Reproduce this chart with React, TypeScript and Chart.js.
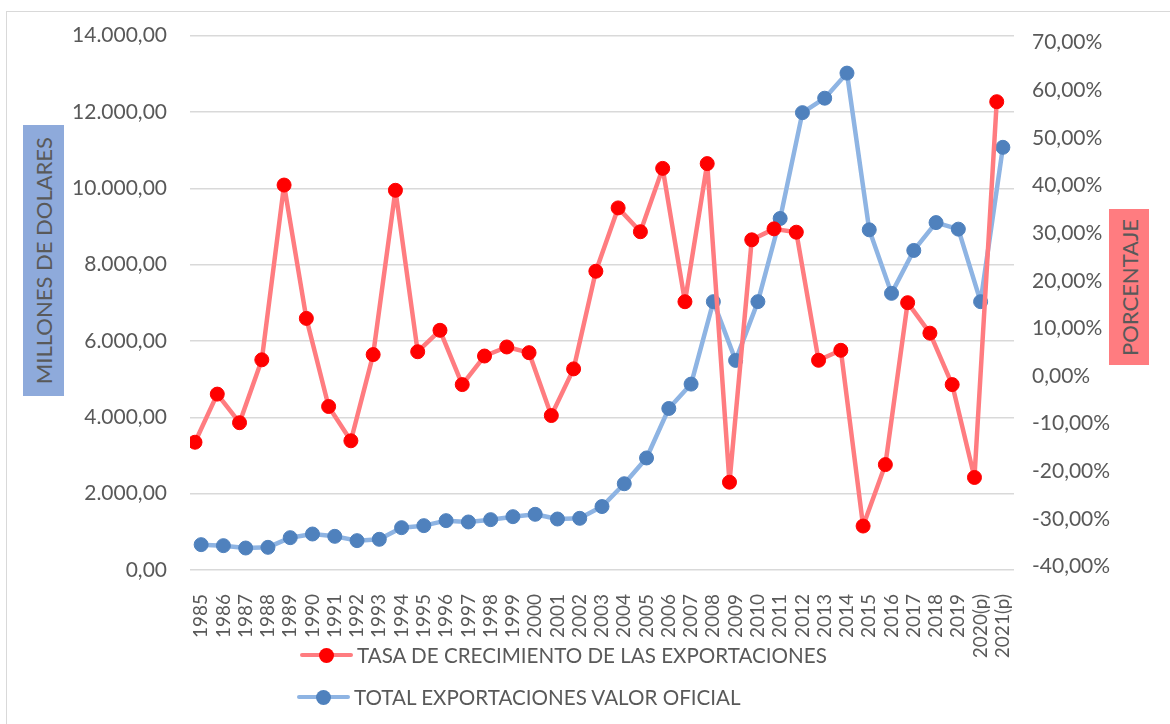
import React, { useEffect, useRef } from 'react';
import { Chart, registerables } from 'chart.js';

Chart.register(...registerables);

// ---------- data ----------
const years: string[] = [
  '1985', '1986', '1987', '1988', '1989', '1990', '1991', '1992', '1993', '1994',
  '1995', '1996', '1997', '1998', '1999', '2000', '2001', '2002', '2003', '2004',
  '2005', '2006', '2007', '2008', '2009', '2010', '2011', '2012', '2013', '2014',
  '2015', '2016', '2017', '2018', '2019', '2020(p)', '2021(p)',
];

// TOTAL EXPORTACIONES VALOR OFICIAL (millones de dólares)
const totalExports: number[] = [
  664, 638, 576, 594, 847, 943, 882, 769, 804, 1109,
  1162, 1293, 1258, 1319, 1397, 1459, 1336, 1354, 1662, 2260,
  2935, 4231, 4870, 7030, 5491, 7030, 9209, 11982, 12360, 13017,
  8912, 7247, 8372, 9101, 8930, 7030, 11073,
];

// TASA DE CRECIMIENTO DE LAS EXPORTACIONES (%)
const growthRate: number[] = [
  -13.9, -3.8, -9.8, 3.4, 40.1, 12.1, -6.4, -13.6, 4.5, 39.0,
  5.1, 9.6, -1.8, 4.2, 6.1, 4.9, -8.3, 1.5, 22.0, 35.3,
  30.3, 43.6, 15.6, 44.6, -22.3, 28.6, 30.9, 30.2, 3.3, 5.4,
  -31.5, -18.6, 15.4, 9.0, -1.8, -21.3, 57.6,
];

const leftTicks: number[] = [0, 2000, 4000, 6000, 8000, 10000, 12000, 14000];
const rightTicks: number[] = [-40, -30, -20, -10, 0, 10, 20, 30, 40, 50, 60, 70];

const seriesNames: string[] = [
  'TASA DE CRECIMIENTO DE LAS EXPORTACIONES',
  'TOTAL EXPORTACIONES VALOR OFICIAL',
];
const axisTitles: string[] = ['MILLONES DE DOLARES', 'PORCENTAJE'];

// ---------- style ----------
const FONT = 'Lato, "Open Sans", sans-serif';
const TEXT = '#595959';
const RED_LINE = '#ff7c80';
const RED_MARK = '#ff0000';
const BLUE_LINE = '#8eb4e3';
const BLUE_MARK = '#4f81bd';

function fmtNumber(v: number): string {
  const neg = v < 0;
  const [i, d] = Math.abs(v).toFixed(2).split('.');
  const withDots = i.replace(/\B(?=(\d{3})+(?!\d))/g, '.');
  return (neg ? '-' : '') + withDots + ',' + d;
}

export default function App() {
  const canvasRef = useRef<HTMLCanvasElement | null>(null);

  useEffect(() => {
    const canvas = canvasRef.current;
    if (!canvas) return;
    const chart = new Chart(canvas, {
      type: 'line',
      data: {
        labels: years,
        datasets: [
          {
            label: seriesNames[0],
            data: growthRate.map((v, i) => ({ x: i, y: v })),
            xAxisID: 'x2',
            yAxisID: 'y1',
            borderColor: RED_LINE,
            backgroundColor: RED_MARK,
            pointBackgroundColor: RED_MARK,
            pointBorderColor: RED_MARK,
            pointRadius: 7,
            pointBorderWidth: 1,
            borderWidth: 4.5,
            borderJoinStyle: 'round',
            borderCapStyle: 'round',
            tension: 0,
          },
          {
            label: seriesNames[1],
            data: totalExports,
            xAxisID: 'x',
            yAxisID: 'y',
            borderColor: BLUE_LINE,
            backgroundColor: BLUE_MARK,
            pointBackgroundColor: BLUE_MARK,
            pointBorderColor: BLUE_MARK,
            pointRadius: 7,
            pointBorderWidth: 1,
            borderWidth: 4.5,
            borderJoinStyle: 'round',
            borderCapStyle: 'round',
            tension: 0,
          },
        ],
      },
      options: {
        responsive: false,
        animation: false,
        layout: { padding: { top: 35, left: 0, right: 0, bottom: 0 } },
        plugins: {
          legend: { display: false },
          tooltip: { enabled: false },
        },
        scales: {
          x: {
            type: 'category',
            offset: true,
            grid: { display: false },
            border: { display: false },
            ticks: {
              autoSkip: false,
              maxRotation: 90,
              minRotation: 90,
              color: TEXT,
              padding: 16,
              font: { family: FONT, size: 19 },
            },
            afterFit: (s: any) => {
              s.height = 154;
            },
          },
          x2: {
            type: 'linear',
            display: false,
            min: -0.5 + 0.2755,
            max: 36.5 + 0.2755,
          },
          y: {
            position: 'left',
            min: 0,
            max: 14000,
            afterBuildTicks: (s: any) => {
              s.ticks = leftTicks.map((v) => ({ value: v }));
            },
            ticks: {
              color: TEXT,
              padding: 23,
              font: { family: FONT, size: 21 },
              callback: (v: any) => fmtNumber(Number(v)),
            },
            grid: { color: '#d9d9d9', lineWidth: 1.5, drawTicks: false },
            border: { display: false },
            afterFit: (s: any) => {
              s.width = 190;
            },
          },
          y1: {
            position: 'right',
            min: -40.73,
            max: 71.48,
            afterBuildTicks: (s: any) => {
              s.ticks = rightTicks.map((v) => ({ value: v }));
            },
            ticks: {
              color: TEXT,
              padding: 18,
              font: { family: FONT, size: 21 },
              callback: (v: any) => fmtNumber(Number(v)) + '%',
            },
            grid: { display: false, drawTicks: false },
            border: { display: false },
            afterFit: (s: any) => {
              s.width = 156;
            },
          },
        },
      },
    } as any);
    return () => chart.destroy();
  }, []);

  const legendRow = (
    top: number,
    lineLeft: number,
    lineColor: string,
    markColor: string,
    text: string,
  ) => (
    <>
      <div
        style={{
          position: 'absolute',
          left: lineLeft,
          top: top - 2.25,
          width: 53,
          height: 4.5,
          borderRadius: 2.25,
          background: lineColor,
        }}
      />
      <div
        style={{
          position: 'absolute',
          left: lineLeft + 26.5 - 7.5,
          top: top - 7.5,
          width: 15,
          height: 15,
          borderRadius: '50%',
          background: markColor,
        }}
      />
      <div
        style={{
          position: 'absolute',
          left: lineLeft + 57,
          top: top - 14,
          height: 28,
          lineHeight: '28px',
          fontFamily: FONT,
          fontSize: 20.6,
          color: TEXT,
          whiteSpace: 'nowrap',
        }}
      >
        {text}
      </div>
    </>
  );

  return (
    <div
      style={{
        position: 'fixed',
        left: 0,
        top: 0,
        width: 1170,
        height: 724,
        overflow: 'hidden',
        background: '#ffffff',
      }}
    >
      <div
        style={{
          position: 'absolute',
          left: 6,
          top: 11,
          width: 1300,
          height: 900,
          border: '1.5px solid #d9d9d9',
        }}
      />
      <canvas
        ref={canvasRef}
        width={1170}
        height={724}
        style={{ position: 'absolute', left: 0, top: 0, width: 1170, height: 724 }}
      />
      <div
        style={{
          position: 'absolute',
          left: 23,
          top: 125,
          width: 41,
          height: 271,
          background: '#8eaadb',
          display: 'flex',
          alignItems: 'center',
          justifyContent: 'center',
        }}
      >
        <div
          style={{
            writingMode: 'vertical-rl',
            transform: 'rotate(180deg)',
            fontFamily: FONT,
            fontSize: 22,
            color: TEXT,
            whiteSpace: 'nowrap',
          }}
        >
          {axisTitles[0]}
        </div>
      </div>
      <div
        style={{
          position: 'absolute',
          left: 1109,
          top: 209,
          width: 40,
          height: 156,
          background: '#ff7c80',
          display: 'flex',
          alignItems: 'center',
          justifyContent: 'center',
        }}
      >
        <div
          style={{
            writingMode: 'vertical-rl',
            transform: 'rotate(180deg)',
            fontFamily: FONT,
            fontSize: 22,
            color: TEXT,
            whiteSpace: 'nowrap',
          }}
        >
          {axisTitles[1]}
        </div>
      </div>
      {legendRow(655, 300, RED_LINE, RED_MARK, seriesNames[0])}
      {legendRow(697, 297, BLUE_LINE, BLUE_MARK, seriesNames[1])}
    </div>
  );
}
